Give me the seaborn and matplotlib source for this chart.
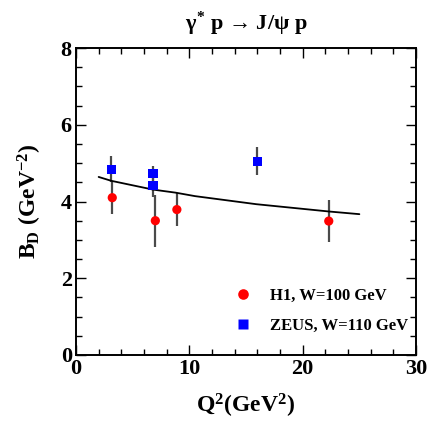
import seaborn as sns
import matplotlib.pyplot as plt
import pandas as pd
from matplotlib.ticker import MultipleLocator

# H1, W=100 GeV
h1_q2 = [3.2, 7.0, 8.9, 22.3]
h1_b = [4.10, 3.50, 3.79, 3.49]
h1_err = [0.43, 0.68, 0.43, 0.55]

# ZEUS, W=110 GeV
zeus_q2 = [3.1, 6.8, 6.8, 16.0]
zeus_b = [4.84, 4.72, 4.42, 5.05]
zeus_err = [0.34, 0.20, 0.30, 0.36]

# model curve
curve_q2 = [2.0, 3.1, 6.8, 8.8, 10.5, 15.9, 22.3, 25.0]
curve_b = [4.64, 4.54, 4.31, 4.23, 4.14, 3.93, 3.74, 3.67]

h1_label = 'H1, W=100 GeV'
zeus_label = 'ZEUS, W=110 GeV'

sns.set_style('ticks')
plt.rcParams['font.family'] = ['Liberation Serif', 'DejaVu Serif']
plt.rcParams['font.weight'] = 'bold'
plt.rcParams['text.color'] = 'black'
plt.rcParams['axes.labelcolor'] = 'black'
plt.rcParams['xtick.color'] = 'black'
plt.rcParams['ytick.color'] = 'black'
plt.rcParams['axes.edgecolor'] = 'black'
plt.rcParams['mathtext.fontset'] = 'custom'
plt.rcParams['mathtext.rm'] = 'Liberation Serif:bold'
plt.rcParams['mathtext.it'] = 'Liberation Serif:bold'
plt.rcParams['mathtext.bf'] = 'Liberation Serif:bold'

fig = plt.figure(figsize=(4.31, 4.29), dpi=100)
ax = fig.add_axes([0.1763, 0.1725, 0.789, 0.7156])

df = pd.DataFrame({
    'q2': h1_q2 + zeus_q2,
    'b': h1_b + zeus_b,
    'exp': [h1_label] * len(h1_q2) + [zeus_label] * len(zeus_q2),
})

# error bars first, markers on top
ax.errorbar(h1_q2, h1_b, yerr=h1_err, fmt='none', ecolor='#4a4a4a', elinewidth=1.6, zorder=2)
ax.errorbar(zeus_q2, zeus_b, yerr=zeus_err, fmt='none', ecolor='#4a4a4a', elinewidth=1.6, zorder=2)

sns.lineplot(x=curve_q2, y=curve_b, color='black', linewidth=1.3, ax=ax, zorder=3)
sns.scatterplot(data=df, x='q2', y='b', hue='exp', style='exp',
                palette={h1_label: '#ff0000', zeus_label: '#0000ff'},
                markers={h1_label: 'o', zeus_label: 's'},
                s=44, edgecolor='none', ax=ax, zorder=4)

ax.legend(loc='lower right', bbox_to_anchor=(1.02, 0.02), frameon=False,
          prop={'family': 'Liberation Serif', 'weight': 'bold', 'size': 12},
          labelspacing=0.85, handletextpad=0.6, markerscale=1.15)

ax.set_xlim(0, 30)
ax.set_ylim(0, 8)
ax.xaxis.set_major_locator(MultipleLocator(10))
ax.xaxis.set_minor_locator(MultipleLocator(2))
ax.yaxis.set_major_locator(MultipleLocator(2))
ax.yaxis.set_minor_locator(MultipleLocator(0.5))
ax.tick_params(which='both', direction='in', top=True, right=True, width=1.0,
               labelsize=16, pad=3, colors='black')
ax.tick_params(which='major', length=7)
ax.tick_params(which='minor', length=4)
for lab in ax.get_xticklabels() + ax.get_yticklabels():
    lab.set_fontweight('bold')
for spine in ax.spines.values():
    spine.set_linewidth(1.4)
    spine.set_visible(True)

ax.set_xlabel(r'Q$^{2}$(GeV$^{2}$)', fontsize=17, fontweight='bold', labelpad=9)
ax.set_ylabel(r'B$_{D}$ (GeV$^{-2}$)', fontsize=17, fontweight='bold', labelpad=12)
ax.set_title(r'$\gamma^{*}$ p → J/$\psi$ p', fontsize=16, fontweight='bold', pad=13)

plt.savefig('out.png', dpi=100)
